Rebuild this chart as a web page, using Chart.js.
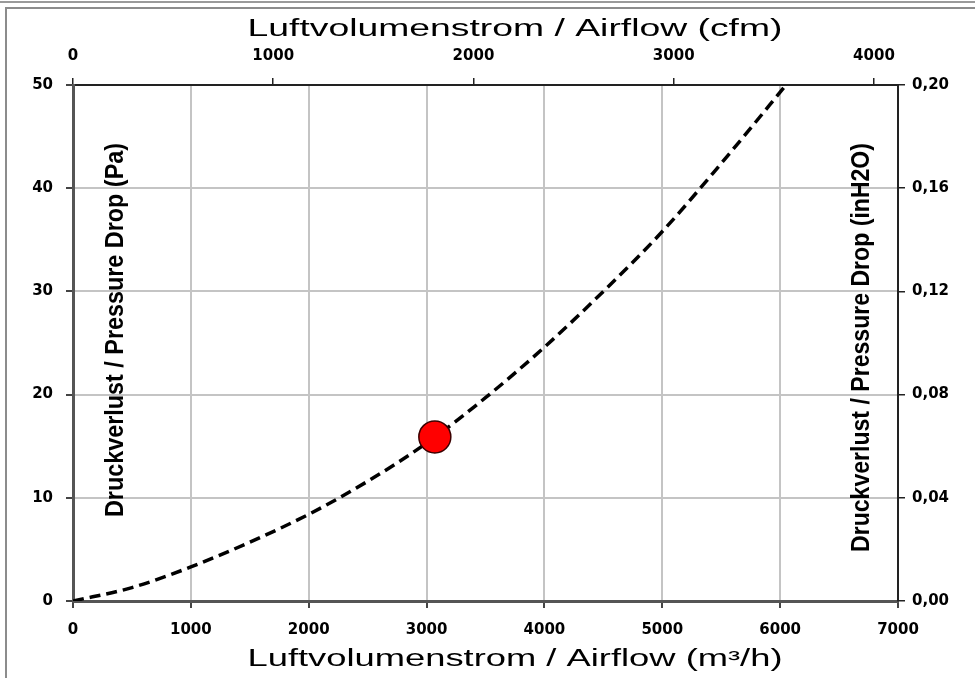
<!DOCTYPE html>
<html>
<head>
<meta charset="utf-8">
<script src="https://cdn.jsdelivr.net/npm/chart.js@4"></script>
<style>
  html, body { margin: 0; padding: 0; background: #fff; overflow: hidden; }
  #topLine { position: absolute; left: 0; top: 1px; width: 975px; height: 2px; background: #9a9a9a; }
  #frame { position: absolute; left: 5px; top: 7px; width: 1000px; height: 700px; border: 2px solid #8c8c8c; }
  #wrap { position: absolute; left: 0; top: 0; width: 975px; height: 678px; }
</style>
</head>
<body>
<div id="topLine"></div>
<div id="frame"></div>
<div id="wrap"><canvas id="pressureChart"></canvas></div>
<script>
// Pressure drop curve
const airflowM3h = [0, 500, 1000, 1500, 2000, 2500, 3000, 3500, 4000, 4500, 5000, 5500, 6000, 6050];
const pressurePa = [0, 1.3, 3.3, 5.7, 8.4, 11.6, 15.3, 19.7, 24.6, 30.0, 35.8, 42.4, 49.3, 50];

// Operating point
const pointM3h = [3070];
const pointPa = [15.9];

// Axis ranges / ticks
const xTicksM3h = [0, 1000, 2000, 3000, 4000, 5000, 6000, 7000];
const xTicksCfm = [0, 1000, 2000, 3000, 4000];
const yTicksPa = [0, 10, 20, 30, 40, 50];
const yTicksInH2O = [0, 0.04, 0.08, 0.12, 0.16, 0.2];
const maxCfm = 4120; // 7000 m3/h in cfm

const titleTop = "Luftvolumenstrom / Airflow (cfm)";
const titleBottom = "Luftvolumenstrom / Airflow (m³/h)";
const titleLeft = "Druckverlust / Pressure Drop (Pa)";
const titleRight = "Druckverlust / Pressure Drop (inH2O)";

const tickFont = { family: "'DejaVu Sans', Verdana, sans-serif", size: 15, weight: "bold" };

// axis titles: horizontal ones sit off-centre, vertical ones inside the plot
const titlePlugin = {
  id: "axisTitles",
  afterDraw(chart) {
    const ctx = chart.ctx;
    const area = chart.chartArea;
    ctx.save();
    ctx.fillStyle = "#000";
    ctx.textAlign = "center";
    ctx.textBaseline = "middle";
    ctx.font = "23px 'Liberation Sans', Arial, sans-serif";
    [[titleTop, 30], [titleBottom, 660]].forEach(([txt, y]) => {
      const w = ctx.measureText(txt).width;
      ctx.save();
      ctx.translate(515, y);
      ctx.scale(535 / w, 1);
      ctx.fillText(txt, 0, 0);
      ctx.restore();
    });
    // condensed look: big bold font squeezed along the text
    ctx.font = "bold 25px 'Liberation Sans', Arial, sans-serif";
    ctx.textAlign = "right";
    [[titleLeft, area.left + 43, 374], [titleRight, area.right - 36, 409]].forEach(([txt, x, len]) => {
      const w = ctx.measureText(txt).width;
      ctx.save();
      ctx.translate(x, 143);
      ctx.rotate(-Math.PI / 2);
      ctx.scale(len / w, 1);
      ctx.fillText(txt, 0, 0);
      ctx.restore();
    });
    ctx.restore();
  },
};

const curveData = airflowM3h.map((x, i) => ({ x: x, y: pressurePa[i] }));
const pointData = pointM3h.map((x, i) => ({ x: x, y: pointPa[i] }));

const keepTicks = (list) => (scale) => {
  scale.ticks = list.map((v) => ({ value: v }));
};

new Chart(document.getElementById("pressureChart"), {
  type: "scatter",
  data: {
    datasets: [
      {
        label: "Operating point",
        data: pointData,
        pointRadius: 16,
        pointHoverRadius: 16,
        backgroundColor: "#ff0000",
        borderColor: "#3a0000",
        borderWidth: 1.5,
        xAxisID: "x",
        yAxisID: "y",
      },
      {
        label: "Pressure drop",
        data: curveData,
        showLine: true,
        borderColor: "#000",
        borderWidth: 3.5,
        borderDash: [11, 6],
        pointRadius: 0,
        cubicInterpolationMode: "monotone",
        xAxisID: "x",
        yAxisID: "y",
      },
    ],
  },
  options: {
    responsive: true,
    maintainAspectRatio: false,
    animation: false,
    events: [],
    layout: { padding: 0 },
    plugins: { legend: { display: false }, tooltip: { enabled: false } },
    scales: {
      x: {
        type: "linear",
        position: "bottom",
        min: 0,
        max: 7000,
        afterBuildTicks: keepTicks(xTicksM3h),
        afterFit: (s) => { s.height = 77; },
        ticks: { color: "#000", font: tickFont, padding: 13, maxRotation: 0, callback: (v) => String(v) },
        grid: { color: "#c4c4c4", lineWidth: 2, tickLength: 7, tickColor: "#444" },
        border: { color: "#555", width: 3 },
      },
      x2: {
        type: "linear",
        position: "top",
        min: 0,
        max: maxCfm,
        afterBuildTicks: keepTicks(xTicksCfm),
        afterFit: (s) => { s.height = 85; },
        ticks: { color: "#000", font: tickFont, padding: 13, maxRotation: 0, callback: (v) => String(v) },
        grid: { drawOnChartArea: false, tickLength: 7, tickColor: "#222", lineWidth: 1.5 },
        border: { color: "#222", width: 2 },
      },
      y: {
        type: "linear",
        position: "left",
        min: 0,
        max: 50,
        afterBuildTicks: keepTicks(yTicksPa),
        afterFit: (s) => { s.width = 73; },
        ticks: { color: "#000", font: tickFont, padding: 13, callback: (v) => String(v) },
        grid: { color: "#c4c4c4", lineWidth: 2, tickLength: 7, tickColor: "#444" },
        border: { color: "#555", width: 3 },
      },
      y2: {
        type: "linear",
        position: "right",
        min: 0,
        max: 0.2,
        afterBuildTicks: keepTicks(yTicksInH2O),
        afterFit: (s) => { s.width = 77; },
        ticks: { color: "#000", font: tickFont, padding: 7, callback: (v) => v.toFixed(2).replace(".", ",") },
        grid: { drawOnChartArea: false, tickLength: 7, tickColor: "#222", lineWidth: 1.5 },
        border: { color: "#222", width: 2 },
      },
    },
  },
  plugins: [titlePlugin],
});
</script>
</body>
</html>
